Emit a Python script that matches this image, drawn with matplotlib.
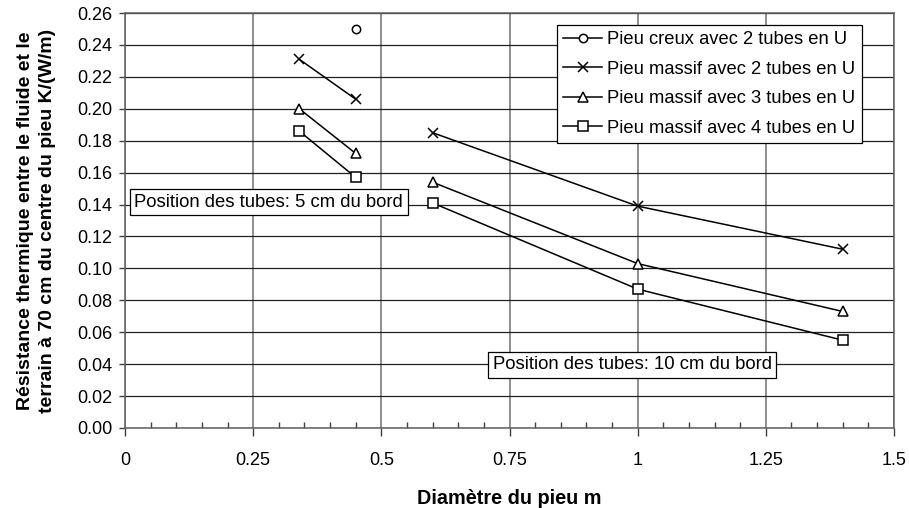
import numpy as np
import matplotlib
matplotlib.use("Agg")
import matplotlib.pyplot as plt
from matplotlib.ticker import MultipleLocator

plt.rcParams['font.family'] = ['Liberation Sans', 'DejaVu Sans']

x_vals = [0.34, 0.45, np.nan, 0.6, 1.0, 1.4]
creux_2 = [np.nan, 0.250, np.nan, np.nan, np.nan, np.nan]
massif_2 = [0.231, 0.206, np.nan, 0.185, 0.139, 0.112]
massif_3 = [0.200, 0.172, np.nan, 0.154, 0.103, 0.073]
massif_4 = [0.186, 0.157, np.nan, 0.141, 0.087, 0.055]
labels = ["Pieu creux avec 2 tubes en U", "Pieu massif avec 2 tubes en U",
          "Pieu massif avec 3 tubes en U", "Pieu massif avec 4 tubes en U"]
x_ticks = [0, 0.25, 0.5, 0.75, 1, 1.25, 1.5]
x_ticklabels = ["0", "0.25", "0.5", "0.75", "1", "1.25", "1.5"]

fig = plt.figure(figsize=(9.09, 5.08), dpi=100)
ax = fig.add_axes([125/909, 1 - 428/508, (894-125)/909, (428-13)/508])

series = [creux_2, massif_2, massif_3, massif_4]
markers = ['o', 'x', '^', 's']
sizes = [6, 7, 7, 7]
for ys, m, lab, ms in zip(series, markers, labels, sizes):
    ax.plot(x_vals, ys, color='black', lw=1.1, marker=m, markersize=ms,
            markerfacecolor='white', markeredgecolor='black', markeredgewidth=1.1,
            label=lab)

ax.set_xlim(0, 1.5)
ax.set_ylim(0, 0.26)
ax.set_xticks(x_ticks)
ax.set_xticklabels(x_ticklabels)
ax.xaxis.set_minor_locator(MultipleLocator(0.05))
ax.yaxis.set_major_locator(MultipleLocator(0.02))
ax.yaxis.set_major_formatter(matplotlib.ticker.FormatStrFormatter('%.2f'))

ax.grid(True, which='major', axis='x', color='#707070', lw=1.1)
ax.grid(True, which='major', axis='y', color='#202020', lw=0.9)
ax.set_axisbelow(True)
for s in ax.spines.values():
    s.set_color('#606060')
    s.set_linewidth(1.1)

ax.tick_params(axis='x', which='major', direction='out', length=6, width=1, color='#404040',
               labelsize=13, pad=11)
ax.tick_params(axis='x', which='minor', direction='in', length=4, width=1, color='#404040')
ax.tick_params(axis='y', which='major', direction='out', length=4, width=1, color='#404040',
               labelsize=13, pad=5)

ax.set_xlabel("Diamètre du pieu m", fontsize=14.3, fontweight='bold', labelpad=15)
ax.set_ylabel("Résistance thermique entre le fluide et le\nterrain à 70 cm du centre du pieu K/(W/m)",
              fontsize=14, fontweight='bold', labelpad=15, linespacing=1.45)

leg = ax.legend(loc='upper right', bbox_to_anchor=(862/909, 1 - 25/508),
                bbox_transform=fig.transFigure, fontsize=13.2, frameon=True, fancybox=False,
                edgecolor='black', framealpha=1, borderpad=0.35, labelspacing=0.68,
                handlelength=2.1, handletextpad=0.3, borderaxespad=0)
leg.get_frame().set_linewidth(0.9)

box = dict(boxstyle='square,pad=0.25', facecolor='white', edgecolor='black', lw=0.9)
ax.text(0.018, 0.1415, "Position des tubes: 5 cm du bord", fontsize=13.3,
        va='center', ha='left', bbox=box)
ax.text(0.7175, 0.0395, "Position des tubes: 10 cm du bord", fontsize=13.3,
        va='center', ha='left', bbox=box)

fig.savefig("out.png", dpi=100, facecolor='white')
